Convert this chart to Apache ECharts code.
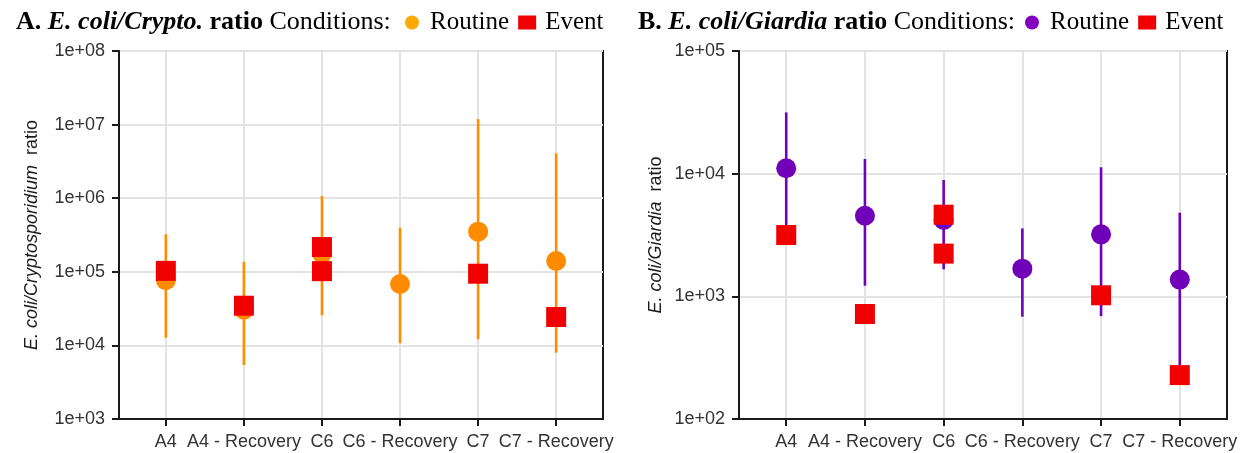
<!DOCTYPE html>
<html>
<head>
<meta charset="utf-8">
<script src="https://cdn.jsdelivr.net/npm/echarts@6/dist/echarts.min.js"></script>
<style>
html,body{margin:0;padding:0;background:#fff;}
#container{width:1244px;height:453px;}
</style>
</head>
<body>
<div id="container"></div>
<script>
var categories = ['A4', 'A4 - Recovery', 'C6', 'C6 - Recovery', 'C7', 'C7 - Recovery'];
var catIndex = [0, 1, 2, 3, 4, 5];

// A. E. coli / Crypto.
var cryptoRoutine = [76700, 30600, 178000, 68300, 351000, 140000];
var cryptoLow = [12700, 5420, 25600, 10700, 12100, 7960];
var cryptoHigh = [323000, 137000, 1070000, 397000, 11900000, 4070000];
var cryptoEventIdx = [0, 1, 2, 2, 4, 5];
var cryptoEvent = [103000, 34600, 217000, 102000, 94200, 24300];

// B. E. coli / Giardia
var giardiaRoutine = [11060, 4540, 4190, 1680, 3200, 1370];
var giardiaLow = [3500, 1220, 1660, 682, 690, 275];
var giardiaHigh = [31600, 13180, 8880, 3580, 11270, 4810];
var giardiaEventIdx = [0, 1, 2, 2, 4, 5];
var giardiaEvent = [3160, 718, 4630, 2230, 1020, 228];

var orange = '#FF8C00', purple = '#7100B9', red = '#F00000';
var axisFont = 'Liberation Sans, Arial, sans-serif';
var titleFont = 'Liberation Serif, Times New Roman, serif';

function pairs(xs, ys){
	var out = [];
	for(var i=0;i<xs.length;i++){ out.push([xs[i], ys[i]]); }
	return out;
}
function errData(lo, hi){
	var out = [];
	for(var i=0;i<lo.length;i++){ out.push([catIndex[i], lo[i], hi[i]]); }
	return out;
}
function expLabel(v){
	var e = Math.round(Math.log(v) / Math.LN10);
	return '1e+' + (e < 10 ? '0' + e : e);
}
function errRender(color){
	return function(params, api){
		var top = api.coord([api.value(0), api.value(2)]);
		var bot = api.coord([api.value(0), api.value(1)]);
		return {type:'line', shape:{x1:top[0], y1:top[1], x2:bot[0], y2:bot[1]},
			style:{stroke:color, lineWidth:2.6}};
	};
}
function xAxisCfg(idx){
	return {
		type:'value', gridIndex:idx, min:-0.6, max:5.6,
		axisLine:{show:true, onZero:false, lineStyle:{color:'#1a1a1a', width:2}},
		axisTick:{show:true, length:7, customValues:catIndex, lineStyle:{color:'#1a1a1a', width:2}},
		axisLabel:{customValues:catIndex, margin:14, fontFamily:axisFont, fontSize:18, color:'#333',
			formatter:function(v){ return categories[Math.round(v)]; }},
		splitLine:{show:true, lineStyle:{color:'#e3e3e3', width:2}}
	};
}
function yAxisCfg(idx, min, max, name, gap){
	return {
		type:'log', logBase:10, gridIndex:idx, min:min, max:max,
		axisLine:{show:true, onZero:false, lineStyle:{color:'#1a1a1a', width:2}},
		axisTick:{show:true, length:7, lineStyle:{color:'#1a1a1a', width:2}},
		axisLabel:{margin:14, fontFamily:axisFont, fontSize:18, color:'#333', formatter:expLabel},
		splitLine:{show:true, lineStyle:{color:'#e3e3e3', width:2}},
		minorTick:{show:false}, minorSplitLine:{show:false},
		name:name, nameLocation:'middle', nameRotate:90, nameGap:gap,
		nameTextStyle:{fontFamily:axisFont, fontSize:18, color:'#1a1a1a',
			rich:{i:{fontFamily:axisFont, fontSize:18, fontStyle:'italic', color:'#1a1a1a'},
			      n:{fontFamily:axisFont, fontSize:18, color:'#1a1a1a'}}}
	};
}
var titleRich = {
	b:{fontFamily:titleFont, fontSize:26, fontWeight:'bold', color:'#000'},
	bi:{fontFamily:titleFont, fontSize:26, fontWeight:'bold', fontStyle:'italic', color:'#000'},
	r:{fontFamily:titleFont, fontSize:26, fontWeight:'normal', color:'#000'}
};
function legendCfg(left, routineColor){
	return {
		left:left, top:5, orient:'horizontal', itemWidth:18, itemHeight:14, itemGap:9,
		selectedMode:false,
		textStyle:{fontFamily:titleFont, fontSize:25, color:'#000', padding:[0,0,0,4]},
		data:[
			{name:'Routine', icon:'circle', itemStyle:{color:routineColor}},
			{name:'Event', icon:'rect', itemStyle:{color:red}}
		]
	};
}

var option = {
	animation:false,
	backgroundColor:'#fff',
	title:[
		{left:11, top:4, text:'{b|A. }{bi|E. coli/Crypto.}{b| ratio }{r|Conditions:}',
			textStyle:{fontWeight:'normal', rich:titleRich}},
		{left:633, top:4, text:'{b|B. }{bi|E. coli/Giardia}{b| ratio }{r|Conditions:}',
			textStyle:{fontWeight:'normal', rich:titleRich}}
	],
	legend:[legendCfg(400, '#FFAA00'), legendCfg(1020, '#7F00BF')],
	grid:[
		{left:119, top:51, width:484, height:368, show:true, borderColor:'#1a1a1a', borderWidth:2, backgroundColor:'#fff'},
		{left:739, top:51, width:488, height:368, show:true, borderColor:'#1a1a1a', borderWidth:2, backgroundColor:'#fff'}
	],
	xAxis:[xAxisCfg(0), xAxisCfg(1)],
	yAxis:[
		yAxisCfg(0, 1e3, 1e8, '{i|E. coli/Cryptosporidium}{n|  ratio}', 78),
		yAxisCfg(1, 1e2, 1e5, '{i|E. coli/Giardia}{n|  ratio}', 74)
	],
	series:[
		{name:'errA', type:'custom', xAxisIndex:0, yAxisIndex:0, z:2,
			renderItem:errRender(orange), encode:{x:0, y:[1,2]}, data:errData(cryptoLow, cryptoHigh)},
		{name:'Routine', type:'scatter', xAxisIndex:0, yAxisIndex:0, z:3, symbol:'circle', symbolSize:20,
			itemStyle:{color:orange, opacity:1}, data:pairs(catIndex, cryptoRoutine)},
		{name:'Event', type:'scatter', xAxisIndex:0, yAxisIndex:0, z:4, symbol:'rect', symbolSize:20,
			itemStyle:{color:red, opacity:1}, data:pairs(cryptoEventIdx, cryptoEvent)},
		{name:'errB', type:'custom', xAxisIndex:1, yAxisIndex:1, z:2,
			renderItem:errRender(purple), encode:{x:0, y:[1,2]}, data:errData(giardiaLow, giardiaHigh)},
		{name:'Routine', type:'scatter', xAxisIndex:1, yAxisIndex:1, z:3, symbol:'circle', symbolSize:20,
			itemStyle:{color:purple, opacity:1}, data:pairs(catIndex, giardiaRoutine)},
		{name:'Event', type:'scatter', xAxisIndex:1, yAxisIndex:1, z:4, symbol:'rect', symbolSize:20,
			itemStyle:{color:red, opacity:1}, data:pairs(giardiaEventIdx, giardiaEvent)}
	]
};
var chart = echarts.init(document.getElementById('container'));
chart.setOption(option);
</script>
</body>
</html>
